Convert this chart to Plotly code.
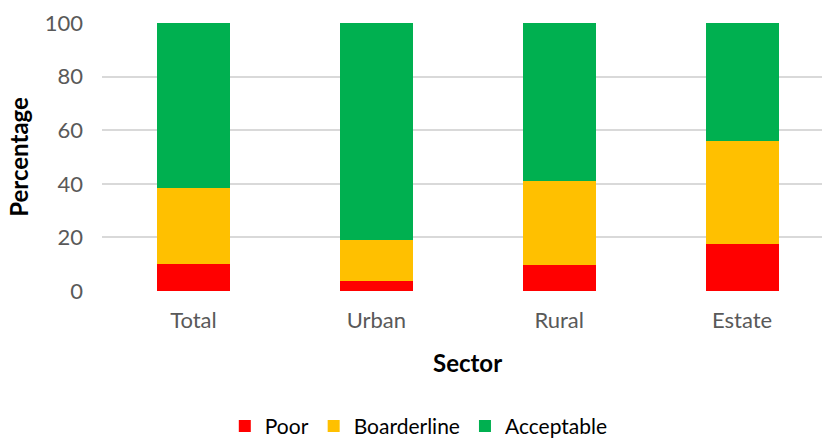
import plotly.graph_objects as go

sectors = ["Total", "Urban", "Rural", "Estate"]
poor = [10.0, 3.6, 9.6, 17.6]
borderline = [28.5, 15.6, 31.5, 38.2]
acceptable = [61.5, 80.8, 58.9, 44.2]

series = [
    ("Poor", poor, "#FF0000"),
    ("Boarderline", borderline, "#FFC000"),
    ("Acceptable", acceptable, "#00B050"),
]

fig = go.Figure()
for name, vals, color in series:
    fig.add_trace(go.Bar(
        x=list(range(len(sectors))), y=vals, name=name,
        marker=dict(color=color, line=dict(width=0)),
        width=0.4,
    ))

fig.update_layout(
    barmode="stack",
    width=822, height=441,
    margin=dict(l=102, r=0, t=23, b=150, autoexpand=False),
    paper_bgcolor="white", plot_bgcolor="white",
    font=dict(family="Lato", size=22, color="#595959"),
    showlegend=True,
    legend=dict(
        orientation="h", x=0.44, xanchor="center", y=-0.505, yanchor="middle",
        font=dict(size=21, color="#000000"), traceorder="normal",
        itemwidth=30,
    ),
    xaxis=dict(
        tickmode="array", tickvals=list(range(len(sectors))), ticktext=sectors,
        range=[-0.5, 3.437], showgrid=False, zeroline=False, showline=False,
        ticks="", tickfont=dict(size=22, color="#595959"),
        ticklabelstandoff=14, automargin=False,
    ),
    yaxis=dict(
        range=[0, 100], dtick=20, showgrid=True, gridcolor="#D9D9D9", gridwidth=1.5,
        zeroline=False, showline=False, ticks="",
        tickfont=dict(size=22, color="#595959"),
        ticklabelstandoff=18, automargin=False,
    ),
    annotations=[
        dict(text="<b>Percentage</b>", xref="paper", yref="paper",
             x=-0.117, y=0.5, xanchor="center", yanchor="middle",
             textangle=-90, showarrow=False,
             font=dict(size=24, color="#000000")),
        dict(text="<b>Sector</b>", xref="paper", yref="paper",
             x=0.507, y=-0.265, xanchor="center", yanchor="middle",
             showarrow=False, font=dict(size=24, color="#000000")),
    ],
)

fig.write_html("out.html")
